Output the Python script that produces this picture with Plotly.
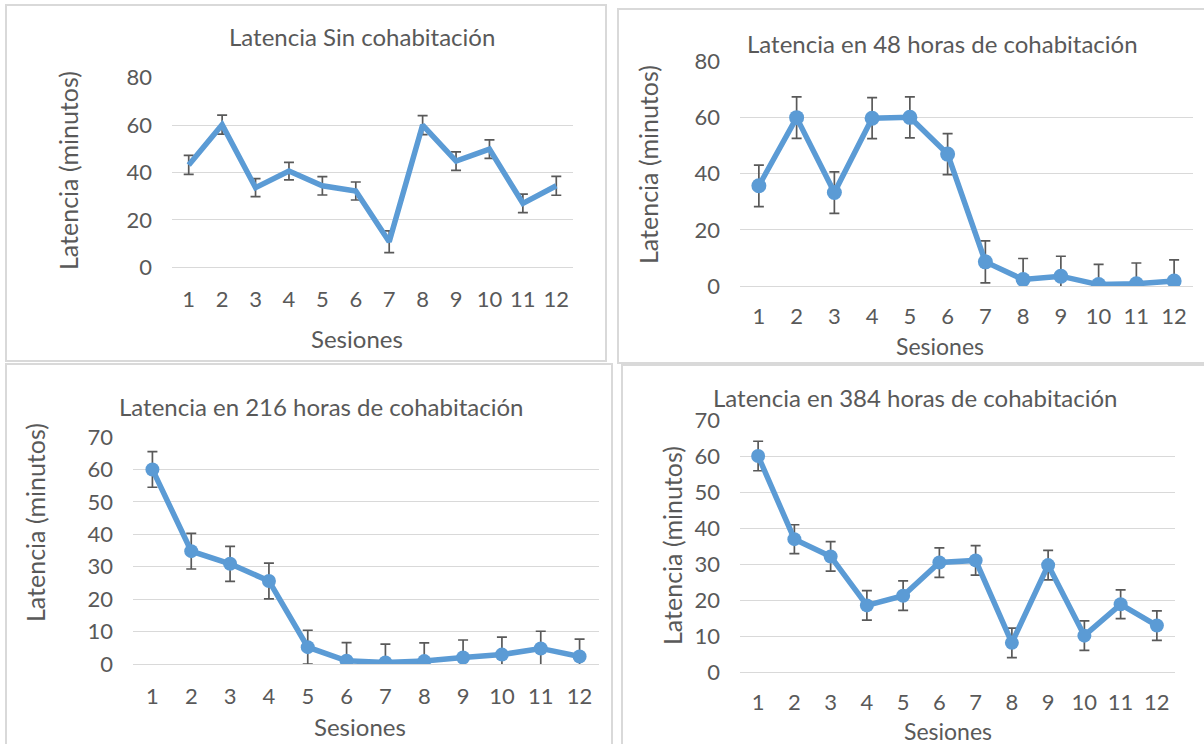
import plotly.graph_objects as go

W, H = 1204, 744

sesiones = list(range(1, 13))
tick_labels = [str(s) for s in sesiones]

# Panel 1: sin cohabitación
lat_sin = [43.2, 60.2, 33.6, 40.6, 34.4, 32.2, 10.8, 60.0, 44.8, 49.9, 27.0, 34.4]
err_sin = [4.0, 4.0, 3.8, 3.7, 3.9, 3.8, 4.6, 4.0, 3.9, 3.9, 3.9, 4.0]
# Panel 2: 48 horas
lat_48 = [35.7, 60.0, 33.3, 59.8, 60.1, 47.0, 8.6, 2.3, 3.5, 0.5, 0.8, 1.8]
err_48 = [7.4, 7.4, 7.4, 7.3, 7.3, 7.3, 7.5, 7.5, 7.1, 7.2, 7.4, 7.5]
# Panel 3: 216 horas
lat_216 = [60.0, 34.8, 30.9, 25.6, 5.2, 1.0, 0.5, 0.9, 2.0, 2.9, 4.8, 2.3]
err_216 = [5.5, 5.5, 5.4, 5.5, 5.2, 5.6, 5.6, 5.6, 5.4, 5.4, 5.3, 5.4]
# Panel 4: 384 horas
lat_384 = [60.0, 36.9, 32.1, 18.5, 21.2, 30.4, 31.0, 8.1, 29.7, 10.1, 18.8, 12.9]
err_384 = [4.1, 4.0, 4.1, 4.1, 4.1, 4.1, 4.1, 4.1, 4.1, 4.1, 4.0, 4.1]

titles = ["Latencia Sin cohabitación",
          "Latencia en 48 horas de cohabitación",
          "Latencia en 216 horas de cohabitación",
          "Latencia en 384 horas de cohabitación"]
y_title = "Latencia (minutos)"
x_title = "Sesiones"
y_max = [80, 80, 70, 70]
y_dtick = [20, 20, 10, 10]

BLUE = "#5B9BD5"
GREY = "#595959"
GRID = "#D9D9D9"
FONT = "Lato"

# plot-area boxes in pixels: x0, x1, ytop, ybottom
boxes = [(172, 573, 77.7, 267.3),
         (740, 1193, 61.5, 286.0),
         (133, 599, 437.0, 664.0),
         (740, 1175, 420.0, 672.0)]
# chart borders in pixels
borders = [(6, 606, 5, 361), (618, 1210, 9, 363), (6, 612, 364, 750), (622, 1210, 365, 750)]
# text positions (pixels)
title_pos = [(362, 37), (942, 44), (322, 407), (915, 397)]
ytitle_pos = [(68, 171), (648, 165), (35, 523), (672, 546)]
xtitle_pos = [(357, 338), (940, 346), (360, 726), (948, 731)]
xtitle_size = [24, 23, 24, 23]
xtick_standoff = [17, 15, 17, 15]

series = [(lat_sin, err_sin, "lines"), (lat_48, err_48, "lines+markers"),
          (lat_216, err_216, "lines+markers"), (lat_384, err_384, "lines+markers")]
marker_sizes = [0, 15, 14, 14]

fig = go.Figure()
annotations = []
shapes = []
for i, ((vals, errs, mode), box) in enumerate(zip(series, boxes)):
    n = "" if i == 0 else str(i + 1)
    fig.add_trace(go.Scatter(
        x=sesiones, y=vals, mode=mode,
        line=dict(color=BLUE, width=5.5),
        marker=dict(color=BLUE, size=marker_sizes[i] if marker_sizes[i] else 6),
        error_y=dict(type="data", array=errs, visible=True, color=GREY,
                     thickness=1.7, width=5),
        xaxis="x" + n, yaxis="y" + n, showlegend=False, hoverinfo="x+y"))
    x0, x1, yt, yb = box
    fig.update_layout(**{
        "xaxis" + n: dict(domain=[x0 / W, x1 / W], range=[0.5, 12.5],
                          tickmode="array", tickvals=sesiones, ticktext=tick_labels,
                          showgrid=False, zeroline=False, showline=False, ticks="",
                          ticklabelstandoff=xtick_standoff[i], automargin=False,
                          tickfont=dict(family=FONT, size=22, color=GREY),
                          anchor="y" + n, fixedrange=True),
        "yaxis" + n: dict(domain=[(H - yb) / H, (H - yt) / H], range=[0, y_max[i]],
                          dtick=y_dtick[i], showgrid=True, gridcolor=GRID, gridwidth=1.3,
                          zeroline=True, zerolinecolor=GRID, zerolinewidth=1.3,
                          showline=False, ticks="", ticklabelstandoff=19, automargin=False,
                          tickfont=dict(family=FONT, size=22, color=GREY),
                          anchor="x" + n, fixedrange=True),
    })
    tx, ty = title_pos[i]
    annotations.append(dict(text=titles[i], x=tx / W, y=1 - ty / H, xref="paper", yref="paper",
                            showarrow=False, xanchor="center", yanchor="middle",
                            font=dict(family=FONT, size=24, color=GREY)))
    ax, ay = ytitle_pos[i]
    annotations.append(dict(text=y_title, x=ax / W, y=1 - ay / H, xref="paper", yref="paper",
                            showarrow=False, xanchor="center", yanchor="middle", textangle=-90,
                            font=dict(family=FONT, size=25, color=GREY)))
    sx, sy = xtitle_pos[i]
    annotations.append(dict(text=x_title, x=sx / W, y=1 - sy / H, xref="paper", yref="paper",
                            showarrow=False, xanchor="center", yanchor="middle",
                            font=dict(family=FONT, size=xtitle_size[i], color=GREY)))
    bx0, bx1, by0, by1 = borders[i]
    shapes.append(dict(type="rect", xref="paper", yref="paper",
                       x0=bx0 / W, x1=bx1 / W, y0=1 - by1 / H, y1=1 - by0 / H,
                       line=dict(color="#D9D9D9", width=2), fillcolor="rgba(0,0,0,0)",
                       layer="below"))

fig.update_layout(width=W, height=H, margin=dict(l=0, r=0, t=0, b=0, pad=0, autoexpand=False),
                  paper_bgcolor="white", plot_bgcolor="white",
                  annotations=annotations, shapes=shapes,
                  font=dict(family=FONT, color=GREY))

fig.write_html("out.html", config={"displayModeBar": False},
               post_script="document.body.style.margin='0px';document.body.style.overflow='hidden';")
